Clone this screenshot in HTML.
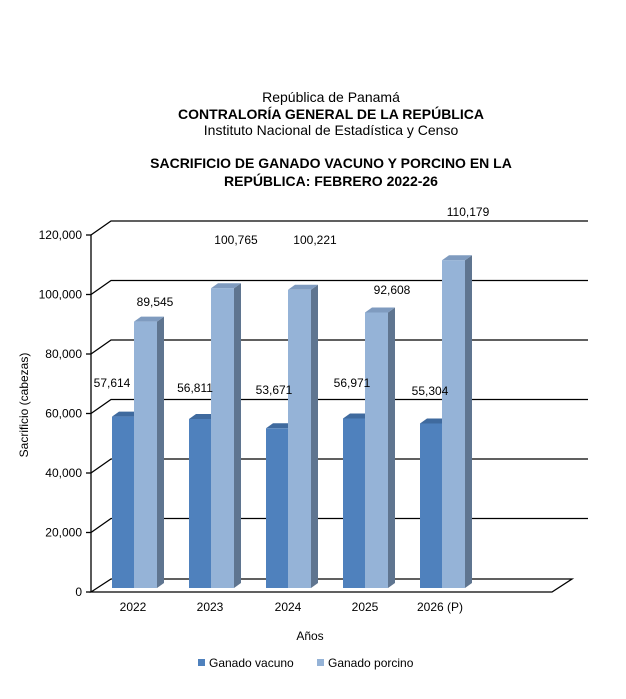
<!DOCTYPE html>
<html><head><meta charset="utf-8"><style>
html,body{margin:0;padding:0;background:#fff}
svg{display:block;font-family:"Liberation Sans",Arial,sans-serif}
</style></head><body>
<svg width="626" height="699" viewBox="0 0 626 699">
<rect width="626" height="699" fill="#fff"/>
<g text-anchor="middle" font-size="14" fill="#000">
<text x="331" y="102">República de Panamá</text>
<text x="331" y="119" font-weight="bold">CONTRALORÍA GENERAL DE LA REPÚBLICA</text>
<text x="331" y="135">Instituto Nacional de Estadística y Censo</text>
<text x="331" y="168" font-weight="bold">SACRIFICIO DE GANADO  VACUNO Y PORCINO EN LA</text>
<text x="331" y="186" font-weight="bold">REPÚBLICA: FEBRERO 2022-26</text>
</g>
<g stroke="#000" stroke-width="1.3" fill="none">
<polyline points="91,235 111,221 588,221"/>
<polyline points="91,294.5 111,280.5 588,280.5"/>
<polyline points="91,354 111,340 588,340"/>
<polyline points="91,413.5 111,399.5 588,399.5"/>
<polyline points="91,473 111,459 588,459"/>
<polyline points="91,532.5 111,518.5 588,518.5"/>
<polygon points="91,592 111,579 572,579 552,592"/>
<line x1="91" y1="235" x2="91" y2="592"/>
</g>
<g stroke="#000" stroke-width="1.3">
<line x1="86" y1="235" x2="91" y2="235"/><line x1="86" y1="294.5" x2="91" y2="294.5"/>
<line x1="86" y1="354" x2="91" y2="354"/><line x1="86" y1="413.5" x2="91" y2="413.5"/>
<line x1="86" y1="473" x2="91" y2="473"/><line x1="86" y1="532.5" x2="91" y2="532.5"/>
<line x1="86" y1="592" x2="91" y2="592"/>
</g>
<g font-size="12" text-anchor="end">
<text x="82" y="239">120,000</text><text x="82" y="298.5">100,000</text>
<text x="82" y="358">80,000</text><text x="82" y="417.5">60,000</text>
<text x="82" y="477">40,000</text><text x="82" y="536.5">20,000</text>
<text x="82" y="596">0</text>
</g>
<g>
<polygon points="134,416.6 141,411.6 141,583 134,588" fill="#3b5f8c"/>
<polygon points="112,416.6 119,411.6 141,411.6 134,416.6" fill="#3f6a9e"/>
<rect x="112" y="416.6" width="22" height="171.4" fill="#4f81bd"/>
<polygon points="157,321.6 164,316.6 164,583 157,588" fill="#5f7590"/>
<polygon points="134,321.6 141,316.6 164,316.6 157,321.6" fill="#7f9bbf"/>
<rect x="134" y="321.6" width="23" height="266.4" fill="#95b3d7"/>
<polygon points="211,419 218,414 218,583 211,588" fill="#3b5f8c"/>
<polygon points="189,419 196,414 218,414 211,419" fill="#3f6a9e"/>
<rect x="189" y="419" width="22" height="169" fill="#4f81bd"/>
<polygon points="234,288.2 241,283.2 241,583 234,588" fill="#5f7590"/>
<polygon points="211,288.2 218,283.2 241,283.2 234,288.2" fill="#7f9bbf"/>
<rect x="211" y="288.2" width="23" height="299.8" fill="#95b3d7"/>
<polygon points="288,428.3 295,423.3 295,583 288,588" fill="#3b5f8c"/>
<polygon points="266,428.3 273,423.3 295,423.3 288,428.3" fill="#3f6a9e"/>
<rect x="266" y="428.3" width="22" height="159.7" fill="#4f81bd"/>
<polygon points="311,289.8 318,284.8 318,583 311,588" fill="#5f7590"/>
<polygon points="288,289.8 295,284.8 318,284.8 311,289.8" fill="#7f9bbf"/>
<rect x="288" y="289.8" width="23" height="298.2" fill="#95b3d7"/>
<polygon points="365,418.5 372,413.5 372,583 365,588" fill="#3b5f8c"/>
<polygon points="343,418.5 350,413.5 372,413.5 365,418.5" fill="#3f6a9e"/>
<rect x="343" y="418.5" width="22" height="169.5" fill="#4f81bd"/>
<polygon points="388,312.5 395,307.5 395,583 388,588" fill="#5f7590"/>
<polygon points="365,312.5 372,307.5 395,307.5 388,312.5" fill="#7f9bbf"/>
<rect x="365" y="312.5" width="23" height="275.5" fill="#95b3d7"/>
<polygon points="442,423.5 449,418.5 449,583 442,588" fill="#3b5f8c"/>
<polygon points="420,423.5 427,418.5 449,418.5 442,423.5" fill="#3f6a9e"/>
<rect x="420" y="423.5" width="22" height="164.5" fill="#4f81bd"/>
<polygon points="465,260.2 472,255.2 472,583 465,588" fill="#5f7590"/>
<polygon points="442,260.2 449,255.2 472,255.2 465,260.2" fill="#7f9bbf"/>
<rect x="442" y="260.2" width="23" height="327.8" fill="#95b3d7"/>
</g>
<g font-size="12" text-anchor="middle">
<text x="133" y="611">2022</text><text x="210" y="611">2023</text><text x="288" y="611">2024</text>
<text x="365" y="611">2025</text><text x="440" y="611">2026 (P)</text>
<text x="310" y="640">Años</text>
<text transform="translate(28,405) rotate(-90)">Sacrificio (cabezas)</text>
</g>
<g font-size="12" text-anchor="middle">
<text x="112" y="387">57,614</text><text x="155" y="306">89,545</text>
<text x="195" y="392">56,811</text><text x="236" y="244">100,765</text>
<text x="274" y="394">53,671</text><text x="315" y="244">100,221</text>
<text x="352" y="387">56,971</text><text x="392" y="294">92,608</text>
<text x="430" y="395">55,304</text><text x="468" y="216">110,179</text>
</g>
<rect x="198" y="659" width="7" height="7" fill="#4f81bd"/>
<text x="209" y="667" font-size="12">Ganado vacuno</text>
<rect x="317" y="659" width="7" height="7" fill="#95b3d7"/>
<text x="328" y="667" font-size="12">Ganado porcino</text>
</svg>
</body></html>
